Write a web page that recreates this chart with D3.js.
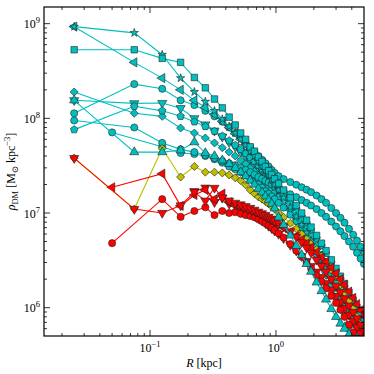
<!DOCTYPE html>
<html>
<head>
<meta charset="utf-8">
<script src="https://cdn.jsdelivr.net/npm/d3@7"></script>
<style>
body { margin: 0; background: #fff; }
svg { display: block; }
text { font-family: "Liberation Serif", "DejaVu Serif", serif; fill: #000; }
</style>
</head>
<body>
<script>
var width = 374;
var height = 374;
var box = {left: 44, right: 364, top: 7, bottom: 336};

// radii of the bins [kpc]
var binsA = [0.025, 0.075, 0.125, 0.175, 0.225, 0.275, 0.325, 0.375, 0.425, 0.475,
    0.525, 0.575, 0.625, 0.675, 0.725, 0.775, 0.825, 0.875, 0.925, 0.975,
    1.05, 1.15, 1.3, 1.45, 1.6, 1.75, 1.9,
    2.1, 2.3, 2.5, 2.75, 3.0, 3.25, 3.5, 3.8, 4.1, 4.4, 4.7, 5.0];
var binsB = [0.05, 0.125, 0.175, 0.225, 0.275, 0.325, 0.375, 0.425, 0.475,
    0.525, 0.575, 0.625, 0.675, 0.725, 0.775, 0.825, 0.875, 0.925, 0.975,
    1.05, 1.15, 1.3, 1.45, 1.6, 1.75, 1.9,
    2.1, 2.3, 2.5, 2.75, 3.0, 3.25, 3.5, 3.8, 4.1, 4.4, 4.7, 5.0];

// densities in units of 1e6 Msun kpc^-3
var UNIT = 1e6;
var cyanStar = [930, 800, 470, 266, 190, 150, 120, 98, 82, 70,
    60, 52, 45, 40, 35, 31, 28, 25, 22.5, 20,
    17.5, 14.5, 11.5, 9.2, 7.5, 6.2, 5.1,
    4.0, 3.2, 2.6, 2.0, 1.6, 1.3, 1.05, 0.82, 0.66, 0.54, 0.45, 0.38];
var cyanSquare = [530, 530, 430, 390, 270, 210, 160, 129, 103, 85,
    70, 60, 50, 45, 39, 35, 31, 28, 25.5, 23,
    20.5, 17.5, 14.5, 12, 10, 8.4, 7.1,
    5.8, 4.8, 4.0, 3.2, 2.6, 2.15, 1.8, 1.45, 1.2, 1.0, 0.85, 0.72];
var cyanLeft = [930, 390, 266, 200, 155, 130, 110, 93, 80, 69,
    60, 53, 47, 42, 37.5, 33.5, 30, 27, 24.5, 22,
    19, 16, 12.8, 10.3, 8.4, 6.9, 5.7,
    4.5, 3.6, 2.95, 2.3, 1.85, 1.5, 1.22, 0.97, 0.78, 0.63, 0.52, 0.43];
var cyanCircle1 = [113, 230, 205, 155, 138, 120, 105, 92, 80, 70,
    62, 55, 49, 44, 40, 36.5, 33.5, 31, 28.5, 26.5,
    24.5, 22.8, 21.2, 19.9, 18.7, 17.6, 16.6,
    15.3, 14, 12.8, 11.3, 10, 8.9, 7.9, 6.8, 5.9, 5.1, 4.4, 3.9];
var cyanCircle2 = [95, 80, 55, 47, 44, 41, 38, 35.5, 33.5, 32,
    30, 28.5, 27, 25.5, 24, 23, 22, 21, 20, 19,
    18, 17, 15.8, 14.7, 13.7, 12.8, 12.0,
    11.0, 10.0, 9.1, 8.1, 7.2, 6.4, 5.7, 5.0, 4.4, 3.8, 3.3, 2.9];
var cyanPenta = [76, 134, 120, 105, 92, 82, 73, 65, 58, 52,
    47, 42.5, 38.5, 35, 32, 29, 26.5, 24.5, 22.5, 20.5,
    18.5, 16, 13.2, 11, 9.2, 7.8, 6.6,
    5.4, 4.5, 3.75, 3.0, 2.45, 2.0, 1.65, 1.32, 1.07, 0.87, 0.72, 0.6];
var cyanDown = [155, 144, 145, 128, 100, 86, 74, 64, 56, 50,
    44, 39.5, 35.5, 32, 29, 26, 23.5, 21.5, 19.5, 17.8,
    15.6, 13.2, 10.5, 8.4, 6.8, 5.6, 4.6,
    3.5, 2.8, 2.25, 1.7, 1.33, 1.05, 0.84, 0.66, 0.52, 0.42, 0.35, 0.29];
var cyanUp = [155, 44, 44, 46, 56, 43, 40, 36, 33, 30,
    27, 24.5, 22, 20, 18, 16.5, 15, 13.7, 12.5, 11.2,
    9.0, 7.5, 5.8, 4.5, 3.6, 2.9, 2.4,
    1.85, 1.5, 1.22, 0.97, 0.8, 0.68, 0.6, 0.52, 0.45, 0.39, 0.34, 0.3];
var cyanDiamond = [190, 113, 105, 79, 70, 62, 55, 49, 44, 40,
    36, 33, 30, 27.5, 25, 23, 21, 19.5, 18, 16.5,
    14.8, 13, 10.8, 9.0, 7.6, 6.4, 5.4,
    4.4, 3.6, 3.0, 2.4, 1.95, 1.6, 1.32, 1.06, 0.86, 0.7, 0.58, 0.48];
var cyanCircle3 = [71, 50, 43, 42, 40, 37, 34, 31, 29, 27,
    25, 23, 21.5, 20, 18.5, 17, 16, 15, 14,
    12.8, 11.4, 9.6, 8.2, 7.0, 6.0, 5.2,
    4.3, 3.6, 3.0, 2.45, 2.0, 1.65, 1.37, 1.1, 0.9, 0.74, 0.62, 0.52];
var yellowDiamond = [38, 11, 48, 24, 31, 27, 27, 26.5, 25.2, 23.5,
    22, 19.8, 17.5, 16, 14.8, 14, 13.2, 12.5, 11.8, 11,
    10, 9, 7.8, 6.8, 6.0, 5.3, 4.7,
    4.1, 3.5, 3.0, 2.5, 2.1, 1.75, 1.45, 1.18, 0.97, 0.8, 0.67, 0.56];
var redDown1 = [38, 11, 10, 12, 16.6, 13.5, 18.4, 14.5, 13.5, 12.8,
    12.3, 11.8, 11.3, 10.8, 10.3, 9.9, 9.5, 9.1, 8.7, 8.3,
    7.8, 7.2, 6.4, 5.6, 4.9, 4.3, 3.8,
    3.2, 2.75, 2.4, 2.0, 1.7, 1.46, 1.25, 1.05, 0.9, 0.77, 0.66, 0.57];
var redLeft = [18.7, 26, 11.9, 15.5, 17.5, 14, 16, 13, 12, 11.5,
    11, 10.6, 10.2, 9.8, 9.4, 9.0, 8.6, 8.3, 7.9,
    7.6, 7.0, 6.3, 5.7, 5.2, 4.75, 4.35,
    3.85, 3.4, 3.05, 2.65, 2.3, 2.0, 1.74, 1.48, 1.27, 1.09, 0.94, 0.81];
var redCircle = [4.8, 14, 9.1, 10.5, 11.5, 9.5, 10.5, 10, 10.2, 9.8,
    9.5, 9.3, 9.0, 8.6, 8.2, 7.8, 7.4, 7.0, 6.6,
    6.1, 5.5, 4.7, 4.0, 3.45, 3.0, 2.6,
    2.2, 1.88, 1.6, 1.33, 1.12, 0.95, 0.8, 0.66, 0.55, 0.47, 0.4, 0.35];
var redDown2 = [null, null, null, null, 17, 18.5, 13, 14.5, 12.5, 12,
    11.2, 10.6, 10, 9.4, 8.8, 8.3, 7.8, 7.3, 6.9, 6.5,
    6.0, 5.4, 4.6, 4.0, 3.5, 3.1, 2.75,
    2.4, 2.1, 1.82, 1.55, 1.32, 1.14, 0.99, 0.84, 0.72, 0.62, 0.54, 0.47];

var CYAN = '#00bfbf', RED = '#ff0000', YELLOW = '#bfbf00';

var series = [
    {r: binsA, v: cyanDown, m: 'down', c: CYAN},
    {r: binsA, v: cyanDiamond, m: 'diamond', c: CYAN},
    {r: binsA, v: cyanPenta, m: 'penta', c: CYAN},
    {r: binsB, v: cyanCircle3, m: 'circle', c: CYAN},
    {r: binsA, v: cyanCircle2, m: 'circle', c: CYAN},
    {r: binsA, v: cyanCircle1, m: 'circle', c: CYAN},
    {r: binsA, v: cyanLeft, m: 'left', c: CYAN},
    {r: binsA, v: cyanStar, m: 'star', c: CYAN},
    {r: binsA, v: cyanSquare, m: 'square', c: CYAN},
    {r: binsA, v: yellowDiamond, m: 'diamond', c: YELLOW},
    {r: binsA, v: redDown2, m: 'down', c: RED},
    {r: binsB, v: redCircle, m: 'circle', c: RED},
    {r: binsB, v: redLeft, m: 'left', c: RED},
    {r: binsA, v: redDown1, m: 'down', c: RED},
    {r: binsA, v: cyanUp, m: 'up', c: CYAN}
];

var x = d3.scaleLog().domain([0.0144, 5.0]).range([box.left, box.right]);
var y = d3.scaleLog().domain([5.02e5, 1.5e9]).range([box.bottom, box.top]);

var svg = d3.select('body').append('svg')
    .attr('width', width)
    .attr('height', height);

svg.append('clipPath').attr('id', 'clip')
    .append('rect')
    .attr('x', box.left).attr('y', box.top)
    .attr('width', box.right - box.left).attr('height', box.bottom - box.top);

var pentagon = {
    draw: function (ctx, size) {
        var r = Math.sqrt(size) * 0.64;
        for (var k = 0; k < 5; k++) {
            var a = -Math.PI / 2 + k * 2 * Math.PI / 5;
            if (k === 0) ctx.moveTo(r * Math.cos(a), r * Math.sin(a));
            else ctx.lineTo(r * Math.cos(a), r * Math.sin(a));
        }
        ctx.closePath();
    }
};

var markers = {
    circle: {type: d3.symbolCircle, size: 40, rot: 0},
    square: {type: d3.symbolSquare, size: 42, rot: 0},
    diamond: {type: d3.symbolSquare, size: 32, rot: 45},
    up: {type: d3.symbolTriangle, size: 36, rot: 0},
    down: {type: d3.symbolTriangle, size: 36, rot: 180},
    left: {type: d3.symbolTriangle, size: 36, rot: -90},
    star: {type: d3.symbolStar, size: 22, rot: 0},
    penta: {type: pentagon, size: 38, rot: 0}
};

var plot = svg.append('g').attr('clip-path', 'url(#clip)');

var line = d3.line()
    .defined(function (d) { return d.v != null; })
    .x(function (d) { return x(d.r); })
    .y(function (d) { return y(d.v * UNIT); });

series.forEach(function (s) {
    var pts = s.v.map(function (v, i) { return {r: s.r[i], v: v}; });
    var g = plot.append('g');
    g.append('path')
        .datum(pts)
        .attr('d', line)
        .attr('fill', 'none')
        .attr('stroke', s.c)
        .attr('stroke-width', 1.1);
    var mk = markers[s.m];
    var sym = d3.symbol().type(mk.type).size(mk.size);
    g.selectAll('path.mk')
        .data(pts.filter(function (d) { return d.v != null; }))
        .enter()
        .append('path')
        .attr('class', 'mk')
        .attr('d', sym)
        .attr('transform', function (d) {
            return 'translate(' + x(d.r) + ',' + y(d.v * UNIT) + ') rotate(' + mk.rot + ')';
        })
        .attr('fill', s.c)
        .attr('stroke', '#222')
        .attr('stroke-width', 0.6);
});

// ticks on all four sides, pointing in
var axes = svg.append('g').attr('stroke', '#000').attr('stroke-width', 0.8);
var xMinor = [], yMinor = [];
[0.01, 0.1, 1].forEach(function (d) {
    for (var k = 2; k <= 9; k++) {
        var v = k * d;
        if (v > 0.0144 && v < 5.0) xMinor.push(v);
    }
});
[1e5, 1e6, 1e7, 1e8, 1e9].forEach(function (d) {
    for (var k = 2; k <= 9; k++) {
        var v = k * d;
        if (v > 5.02e5 && v < 1.5e9) yMinor.push(v);
    }
});
var xMajor = [0.1, 1];
var yMajor = [1e6, 1e7, 1e8, 1e9];

function xTicks(vals, len) {
    vals.forEach(function (v) {
        axes.append('line').attr('x1', x(v)).attr('x2', x(v))
            .attr('y1', box.bottom).attr('y2', box.bottom - len);
        axes.append('line').attr('x1', x(v)).attr('x2', x(v))
            .attr('y1', box.top).attr('y2', box.top + len);
    });
}
function yTicks(vals, len) {
    vals.forEach(function (v) {
        axes.append('line').attr('y1', y(v)).attr('y2', y(v))
            .attr('x1', box.left).attr('x2', box.left + len);
        axes.append('line').attr('y1', y(v)).attr('y2', y(v))
            .attr('x1', box.right).attr('x2', box.right - len);
    });
}
xTicks(xMajor, 6);
xTicks(xMinor, 3);
yTicks(yMajor, 6);
yTicks(yMinor, 3);

svg.append('rect')
    .attr('x', box.left).attr('y', box.top)
    .attr('width', box.right - box.left).attr('height', box.bottom - box.top)
    .attr('fill', 'none').attr('stroke', '#000').attr('stroke-width', 1.2);

// tick labels
var xLabels = ['\u22121', '0'];
var yLabels = ['6', '7', '8', '9'];

xMajor.forEach(function (v, i) {
    var t = svg.append('text')
        .attr('x', x(v)).attr('y', 352)
        .attr('text-anchor', 'middle')
        .attr('font-size', 12);
    t.append('tspan').text('10');
    t.append('tspan').attr('dy', -5).attr('font-size', 8.5).text(xLabels[i]);
});

yMajor.forEach(function (v, i) {
    var t = svg.append('text')
        .attr('x', 40).attr('y', y(v) + 4.5)
        .attr('text-anchor', 'end')
        .attr('font-size', 12);
    t.append('tspan').text('10');
    t.append('tspan').attr('dy', -5).attr('font-size', 8.5).text(yLabels[i]);
});

// axis titles
var xt = svg.append('text')
    .attr('x', (box.left + box.right) / 2).attr('y', 367)
    .attr('text-anchor', 'middle')
    .attr('font-size', 12);
xt.append('tspan').attr('font-style', 'italic').text('R');
xt.append('tspan').text(' [kpc]');

var yt = svg.append('text')
    .attr('transform', 'translate(15,' + ((box.top + box.bottom) / 2) + ') rotate(-90)')
    .attr('text-anchor', 'middle')
    .attr('font-size', 12);
yt.append('tspan').attr('font-style', 'italic').text('\u03c1');
yt.append('tspan').attr('font-size', 8.5).attr('dy', 3).text('DM');
yt.append('tspan').attr('dy', -3).text(' [M');
yt.append('tspan').attr('font-size', 8.5).attr('dy', 3).text('\u2299');
yt.append('tspan').attr('dy', -3).text(' kpc');
yt.append('tspan').attr('font-size', 8.5).attr('dy', -5).text('\u22123');
yt.append('tspan').attr('dy', 5).text(']');
</script>
</body>
</html>
